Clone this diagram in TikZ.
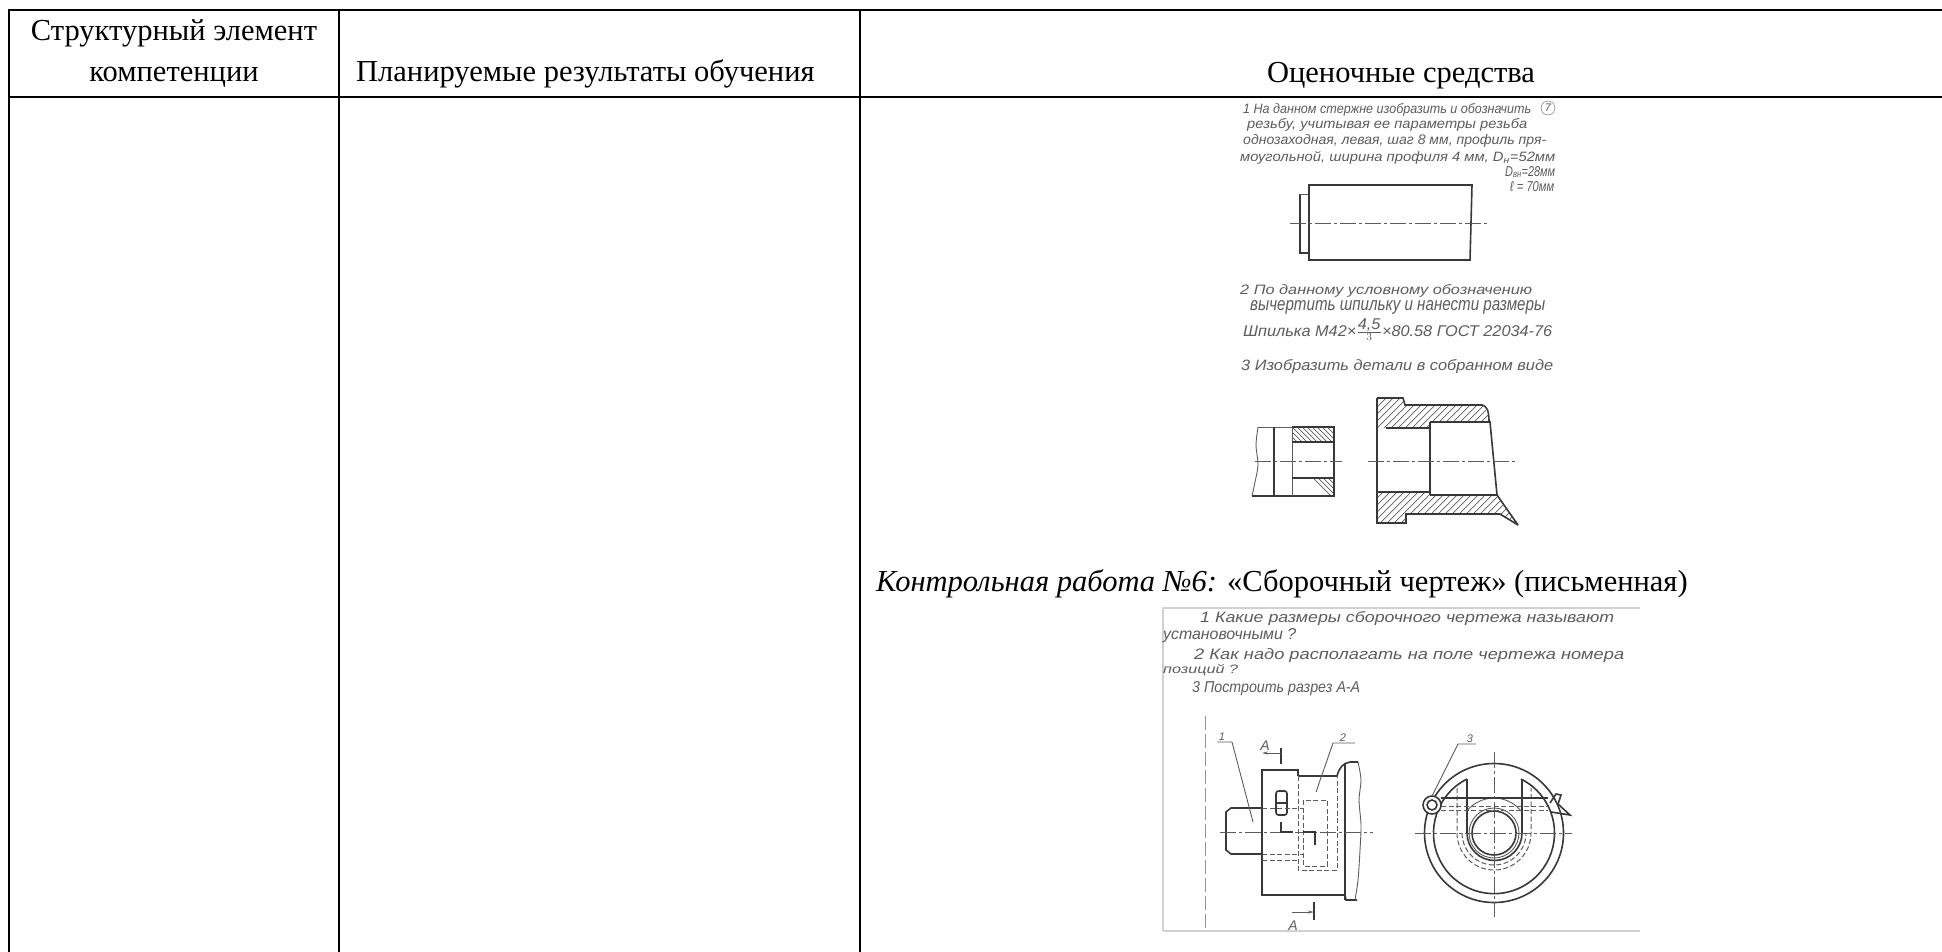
\documentclass[tikz,border=0pt]{standalone}
\usepackage{fontspec}
\usepackage{graphicx}
\setmainfont{Liberation Serif}
\newfontfamily\handfont{Liberation Sans}
\usetikzlibrary{arrows.meta}
\definecolor{inkc}{gray}{0.22}
\definecolor{softc}{gray}{0.36}
\definecolor{edgec}{gray}{0.82}
\tikzset{
  x=1pt,y=-1pt,
  rule/.style={draw=black,line width=2pt},
  cell/.style={inner sep=0pt,anchor=base,font=\fontsize{30.5}{34}\selectfont,text=black},
  cellw/.style={inner sep=0pt,anchor=base west,font=\fontsize{30.5}{34}\selectfont,text=black},
  hand/.style={inner sep=0pt,anchor=base west,text=softc,font=\handfont\itshape\fontsize{13}{15}\selectfont},
  thick ink/.style={draw=inkc,line width=1.6pt},
  thin ink/.style={draw=softc,line width=.9pt},
  hatchline/.style={draw=softc,line width=.7pt},
  dash ink/.style={draw=softc,line width=1pt,dash pattern=on 5pt off 2.5pt},
  center ink/.style={draw=softc,line width=.9pt,dash pattern=on 16pt off 3pt on 3pt off 3pt},
}
\newcommand{\hwline}[5]{\node[hand] at (#1,#2) {\resizebox{#3pt}{#4pt}{#5}};}
\newcommand{\hatchslash}[1]{\begin{scope}\clip #1;
  \foreach \i in {1230,1237,...,1560}{\draw[hatchline] (\i,540) -- ++(150,-150);}
  \end{scope}}
\newcommand{\hatchback}[1]{\begin{scope}\clip #1;
  \foreach \i in {1255,1260,...,1340}{\draw[hatchline] (\i,420) -- ++(80,80);}
  \end{scope}}
\begin{document}
\begin{tikzpicture}
\useasboundingbox (0,0) rectangle (1942,952);
% table grid
\draw[rule] (8,10) -- (1942,10);
\draw[rule] (8,97) -- (1942,97);
\draw[rule] (9,10) -- (9,952);
\draw[rule] (339,10) -- (339,952);
\draw[rule] (860,10) -- (860,952);
% header
\node[cell] (h1a) at (174,41) {Структурный элемент};
\node[cell] (h1b) at (174,82) {компетенции};
\node[cellw] (h2) at (356,82) {Планируемые результаты обучения};
\node[cell] (h3) at (1401,83) {Оценочные средства};
\node[cellw] (kr) at (876,591) {\textit{Контрольная работа №6:} «Сборочный чертеж» (письменная)};
% ---- first scan
\hwline{1243}{114}{288}{10}{1 На данном стержне изобразить и обозначить}
\node[hand,draw=softc,circle,inner sep=1.5pt,anchor=center,font=\handfont\itshape\fontsize{11}{11}\selectfont] (seven) at (1548,108) {7};
\hwline{1247}{129}{280}{10}{резьбу, учитывая ее параметры резьба}
\hwline{1243}{145}{303}{10}{однозаходная, левая, шаг 8 мм, профиль пря-}
\hwline{1240}{162}{315}{10}{моугольной, ширина профиля 4 мм, D\textsubscript{н}=52мм}
\hwline{1505}{176}{50}{10}{D\textsubscript{вн}=28мм}
\hwline{1510}{191}{44}{10}{ℓ = 70мм}
% cylinder
\draw[thick ink] (1300,194) -- (1300,253) -- (1309,253);
\draw[thin ink] (1300,194) -- (1309,194);
\draw[thick ink] (1309,260) -- (1309,185) -- (1472,185) -- (1470,260) -- cycle;
\draw[center ink] (1290,223) -- (1488,223);
% second text
\hwline{1240}{294}{292}{10}{2 По данному условному обозначению}
\hwline{1250}{310}{295}{10}{вычертить шпильку и нанести размеры}
\hwline{1243}{336}{309}{17}{Шпилька М42×$\frac{\mbox{4,5}}{3}$×80.58 ГОСТ 22034-76}
\hwline{1241}{370}{312}{11}{3 Изобразить детали в собранном виде}
% left part
\hatchback{(1292,427) rectangle (1334,442)}
\hatchback{(1292,478) rectangle (1334,496)}
\draw[thick ink] (1292,427) -- (1334,427) -- (1334,496) -- (1252,496);
\draw[thin ink] (1292,427) -- (1258,427);
\draw[thin ink] plot[smooth] coordinates {(1258,427) (1256,445) (1258,465) (1255,482) (1252,496)};
\draw[thick ink] (1274,427) -- (1274,496);
\draw[thin ink] (1292,427) -- (1292,496);
\draw[thick ink] (1292,442) -- (1334,442);
\draw[thick ink] (1292,478) -- (1334,478);
\draw[center ink] (1255,461) -- (1342,461);
% right part
\hatchslash{(1378,398) -- (1403,398) -- (1405,405) -- (1482,405) -- (1489,415) -- (1489,422) -- (1430,422) -- (1430,428) -- (1378,428) -- cycle}
\hatchslash{(1378,492) -- (1430,492) -- (1430,495) -- (1497,495) -- (1518,525) -- (1500,514) -- (1405,514) -- (1405,523) -- (1378,523) -- cycle}
\draw[thick ink] (1377,398) -- (1403,398) -- (1405,405) -- (1482,405) .. controls (1487,406) and (1489,411) .. (1489,422);
\draw[thick ink] (1377,398) -- (1377,523) -- (1406,523) -- (1406,514) -- (1500,514) -- (1518,525);
\draw[thick ink] (1386,428) -- (1430,428);
\draw[thick ink] (1430,422) -- (1490,422) -- (1497,495);
\draw[thick ink] (1430,422) -- (1430,495);
\draw[thick ink] (1377,492) -- (1430,492);
\draw[thick ink] (1430,495) -- (1497,495) -- (1518,525);
\draw[center ink] (1368,461) -- (1518,461);
% ---- second scan
\draw[draw=edgec,line width=1.5pt] (1163,931) -- (1163,608) -- (1640,608);
\draw[draw=edgec,line width=1.2pt] (1163,931) -- (1640,931);
\hwline{1200}{622}{414}{11}{1 Какие размеры сборочного чертежа называют}
\hwline{1163}{639}{133}{11}{установочными ?}
\hwline{1194}{659}{430}{11}{2 Как надо располагать на поле чертежа номера}
\hwline{1163}{673}{75}{9}{позиций ?}
\hwline{1192}{692}{168}{11}{3 Построить разрез А-А}
% long left dashed
\draw[draw=edgec!70!black,line width=.8pt,dash pattern=on 14pt off 4pt] (1205,716) -- (1205,930);
% side view
\draw[thick ink] (1298,776) -- (1298,770) -- (1262,770) -- (1262,895) -- (1345,895);
\draw[thick ink] (1298,776) -- (1337,776);
\draw[thick ink] (1237,808) -- (1262,808);
\draw[thick ink] (1262,854) -- (1231,854) -- (1226,850) -- (1226,812) -- (1231,808) -- (1237,808);
\draw[thick ink] (1345,763) -- (1345,900);
\draw[thick ink] (1337,776) .. controls (1339,768) and (1343,763) .. (1350,762) -- (1358,762);
\draw[thick ink] (1345,895) -- (1346,900) -- (1357,900);
\draw[thin ink] plot[smooth] coordinates {(1358,762) (1361,780) (1359,800) (1361,825) (1360,850) (1358,880) (1355,900)};
\draw[thick ink,rounded corners=2.5pt] (1276,791) rectangle (1287,815);
\draw[thick ink] (1276,803) -- (1287,803);
\draw[dash ink] (1262,808) -- (1303,808);
\draw[dash ink] (1262,854) -- (1303,854);
\draw[dash ink] (1262,860) -- (1298,860);
\draw[dash ink] (1303,800) rectangle (1327,866);
\draw[dash ink] (1298,776) -- (1298,870) -- (1337,870) -- (1337,776);
\draw[center ink] (1220,832) -- (1373,832);
\draw[line width=2pt,draw=inkc] (1281,748) -- (1281,764);
\draw[thin ink,-{Stealth[length=6pt,width=3pt]}] (1281,753) -- (1262,753);
\node[hand,anchor=base,font=\handfont\itshape\fontsize{14}{14}\selectfont] (am1) at (1265,750) {А};
\draw[line width=2pt,draw=inkc] (1314,902) -- (1314,920);
\draw[thin ink,-{Stealth[length=6pt,width=3pt]}] (1292,912) -- (1314,912);
\node[hand,anchor=base,font=\handfont\itshape\fontsize{14}{14}\selectfont] (am2) at (1293,930) {А};
\draw[line width=2pt,draw=inkc] (1281,822) -- (1281,832) -- (1293,832);
\draw[line width=2pt,draw=inkc] (1303,832) -- (1315,832) -- (1315,845);
\node[hand,anchor=base,font=\handfont\itshape\fontsize{11}{11}\selectfont] (n1) at (1222,740) {1};
\draw[thin ink] (1217,742) -- (1232,742) -- (1253,822);
\node[hand,anchor=base,font=\handfont\itshape\fontsize{11}{11}\selectfont] (n2) at (1343,741) {2};
\draw[thin ink] (1355,743) -- (1333,743) -- (1316,792);
% circular view
\draw[thick ink] (1494,833) circle[radius=69.5];
\draw[thick ink] (1467,779) arc[start angle=243.5,end angle=-63.5,radius=60.5];
\draw[thick ink] (1467,779) -- (1467,833) arc[start angle=180,end angle=0,radius=27.5] -- (1522,779);
\draw[thick ink] (1494,833) circle[radius=22];
\draw[thin ink] (1494,833) circle[radius=25];
\draw[thin ink] (1466,812) arc[start angle=217,end angle=323,radius=35];
\draw[dash ink] (1457,788) -- (1457,833) arc[start angle=180,end angle=0,radius=37] -- (1531,788);
\draw[dash ink] (1462,833) arc[start angle=180,end angle=0,radius=32];
\draw[thick ink] (1441,798) -- (1548,798);
\draw[dash ink] (1441,806) -- (1548,806);
\draw[dash ink] (1441,810) -- (1548,810);
\draw[thick ink,fill=white] (1432,805) circle[radius=9];
\draw[thick ink,fill=white] (1432,805) circle[radius=5];
\draw[thick ink] (1550,803) -- (1556,794) -- (1561,795) -- (1558,804) -- (1570,815) -- (1551,812);
\draw[center ink] (1415,833) -- (1572,833);
\draw[center ink] (1494,752) -- (1494,917);
\node[hand,anchor=base,font=\handfont\itshape\fontsize{11}{11}\selectfont] (n3) at (1470,742) {3};
\draw[thin ink] (1476,744) -- (1458,744) -- (1432,796);
\end{tikzpicture}
\end{document}
